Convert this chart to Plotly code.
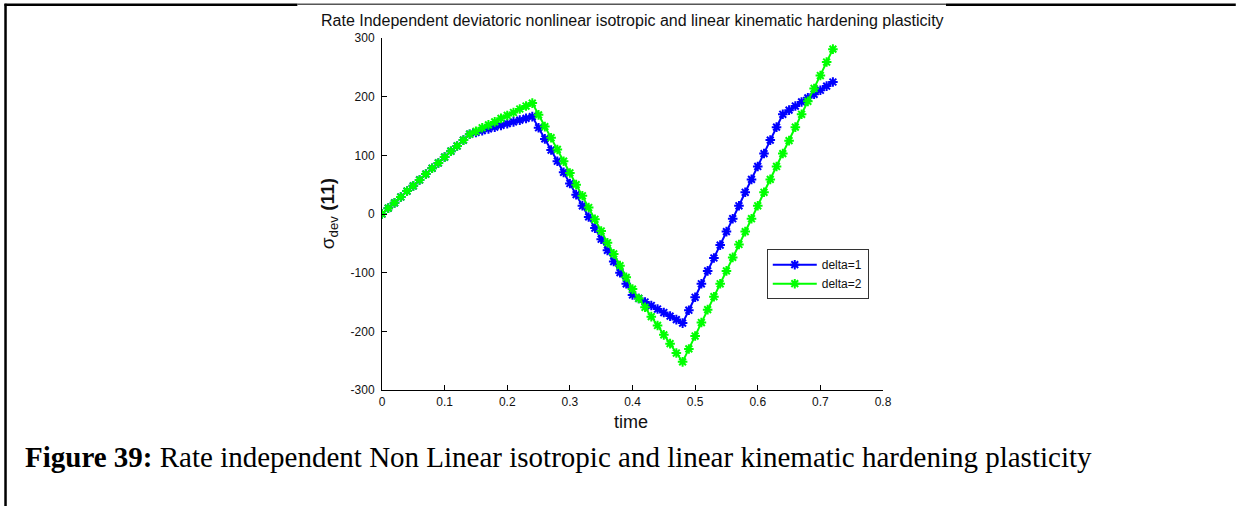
import plotly.graph_objects as go

# time samples (s), one every 0.01
time = [round(i * 0.01, 2) for i in range(73)]

# deviatoric stress component (11) for delta = 1
sigma_delta1 = [
    0, 10, 19, 29, 39, 48, 58, 68, 78, 87, 97, 107, 116, 126, 136,
    139, 142, 145, 148, 151, 154, 157, 160, 163, 166,
    147, 128, 109, 90, 71, 52, 33, 14, -5, -24, -43, -62, -81, -100, -119, -138,
    -144, -150, -156, -162, -168, -174, -180, -186,
    -164, -142, -119, -97, -75, -53, -30, -8, 14, 37, 59, 81, 103, 126, 148, 170,
    177, 184, 191, 198, 204, 211, 218, 225,
]

# deviatoric stress component (11) for delta = 2
sigma_delta2 = [
    0, 10, 19, 29, 39, 48, 58, 68, 78, 87, 97, 107, 116, 126, 136,
    141, 147, 152, 157, 163, 168, 173, 179, 184, 189,
    169, 149, 130, 110, 90, 70, 50, 31, 11, -9, -29, -49, -68, -88, -108, -128,
    -144, -159, -175, -190, -206, -221, -237, -252,
    -230, -208, -185, -163, -141, -119, -97, -74, -52, -30, -8, 14, 37, 59, 81,
    103, 125, 148, 170, 192, 214, 236, 259, 281,
]

series_names = ["delta=1", "delta=2"]
series_colors = ["rgb(0,0,255)", "rgb(0,255,0)"]

x_ticks = [0, 0.1, 0.2, 0.3, 0.4, 0.5, 0.6, 0.7, 0.8]
x_ticktext = ["0", "0.1", "0.2", "0.3", "0.4", "0.5", "0.6", "0.7", "0.8"]
y_ticks = [-300, -200, -100, 0, 100, 200, 300]
y_ticktext = ["-300", "-200", "-100", "0", "100", "200", "300"]

W, H = 1236, 506
# plot area in pixels
PL, PR, PT, PB = 381.7, 883.0, 38.3, 390.0


def px(xp):
    return (xp - PL) / (PR - PL)


def py(yp):
    return (PB - yp) / (PB - PT)


fig = go.Figure()
for name, ys, col in zip(series_names, [sigma_delta1, sigma_delta2], series_colors):
    fig.add_trace(go.Scatter(
        x=time, y=ys, name=name, mode="lines+markers",
        line=dict(color=col, width=2),
        marker=dict(symbol="asterisk-open", size=8, color=col,
                    line=dict(color=col, width=2)),
    ))

SANS = "Liberation Sans, Arial, sans-serif"
axis_font = dict(family=SANS, size=12, color="#111")

fig.update_layout(
    width=W, height=H, autosize=False,
    margin=dict(l=PL, r=W - PR, t=PT, b=H - PB, pad=0),
    paper_bgcolor="white", plot_bgcolor="white",
    showlegend=True,
    legend=dict(
        x=px(766.7), y=py(249.3), xanchor="left", yanchor="top",
        bgcolor="white", bordercolor="#333", borderwidth=1,
        font=dict(family=SANS, size=12, color="#111"),
        tracegroupgap=0, itemwidth=44,
    ),
    xaxis=dict(
        range=[0, 0.8], tickvals=x_ticks, ticktext=x_ticktext,
        showgrid=False, zeroline=False, showline=True, linecolor="black",
        linewidth=1, ticks="inside", ticklen=5, tickcolor="black",
        tickfont=axis_font, mirror=False, ticklabelstandoff=1,
    ),
    yaxis=dict(
        range=[-300, 300], tickvals=y_ticks, ticktext=y_ticktext,
        showgrid=False, zeroline=False, showline=True, linecolor="black",
        linewidth=1, ticks="inside", ticklen=5, tickcolor="black",
        tickfont=axis_font, mirror=False, ticklabelstandoff=4,
    ),
)

annotations = [
    dict(text="Rate Independent deviatoric nonlinear isotropic and linear kinematic hardening plasticity",
         x=px(632), y=py(21), xref="paper", yref="paper",
         xanchor="center", yanchor="middle", showarrow=False,
         font=dict(family=SANS, size=16, color="#111")),
    dict(text="time", x=px(631), y=py(422), xref="paper", yref="paper",
         xanchor="center", yanchor="middle", showarrow=False,
         font=dict(family=SANS, size=18, color="#111")),
    dict(text="σ<sub>dev</sub> <b>(11)</b>", x=px(329), y=py(214), xref="paper", yref="paper",
         xanchor="center", yanchor="middle", showarrow=False, textangle=-90,
         font=dict(family=SANS, size=19, color="#111")),
    dict(text="<b>Figure 39:</b> Rate independent Non Linear isotropic and linear kinematic hardening plasticity",
         x=px(22), y=py(457), xref="paper", yref="paper",
         xanchor="left", yanchor="middle", showarrow=False,
         font=dict(family="Liberation Serif, Times New Roman, serif", size=29, color="black")),
]
fig.update_layout(annotations=annotations)

# page frame lines around the figure block
shapes = [
    dict(type="line", xref="paper", yref="paper", x0=px(5), x1=px(5), y0=py(4), y1=py(506),
         line=dict(color="black", width=2.5)),
    dict(type="line", xref="paper", yref="paper", x0=px(4), x1=px(297), y0=py(5), y1=py(5),
         line=dict(color="black", width=2.5)),
    dict(type="line", xref="paper", yref="paper", x0=px(297), x1=px(946), y0=py(4.5), y1=py(4.5),
         line=dict(color="black", width=1)),
    dict(type="line", xref="paper", yref="paper", x0=px(946), x1=px(1236), y0=py(5), y1=py(5),
         line=dict(color="black", width=2.5)),
]
fig.update_layout(shapes=shapes)

fig.write_html("out.html")
